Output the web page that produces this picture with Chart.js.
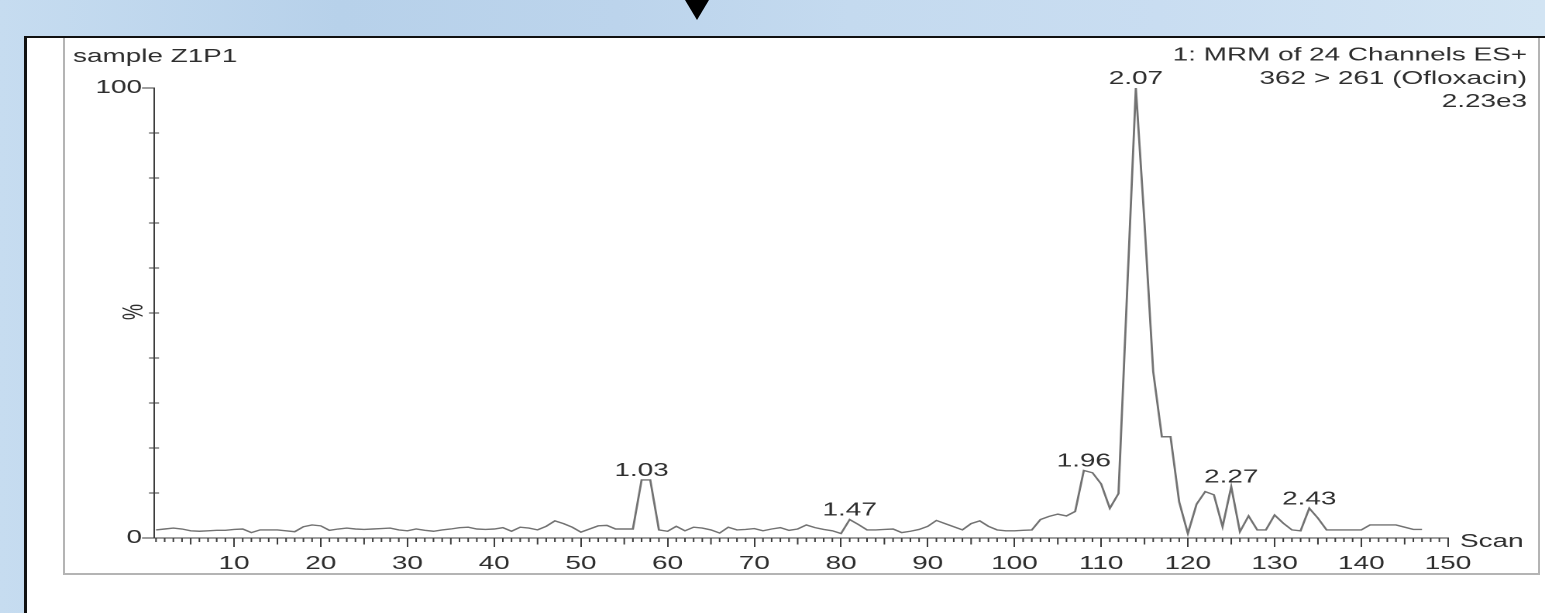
<!DOCTYPE html>
<html>
<head>
<meta charset="utf-8">
<script src="https://cdn.jsdelivr.net/npm/chart.js@4.4.1/dist/chart.umd.min.js"></script>
<style>
  html, body { margin: 0; padding: 0; }
  body {
    width: 1545px; height: 613px; overflow: hidden; position: relative;
    background: linear-gradient(to right, #c6dcf0 0%, #b7d1ea 22%, #bcd4ec 40%, #c4daef 55%, #c9ddf1 75%, #d2e4f3 100%);
    font-family: "Liberation Sans", Arial, sans-serif;
  }
  #panel { position: absolute; left: 24px; top: 36px; right: -10px; bottom: -10px;
    background: #fff; border-left: 3px solid #111; border-top: 2.5px solid #111; }
  #frame { position: absolute; left: 63px; top: 38px; width: 1477px; height: 537px; box-sizing: border-box;
    border-left: 2px solid #b4b4b4; border-right: 2px solid #b4b4b4; border-bottom: 2px solid #b4b4b4; }
  #tri { position: absolute; left: 685px; top: 0; width: 0; height: 0;
    border-left: 12px solid transparent; border-right: 12px solid transparent; border-top: 20px solid #000; }
  #wrap { position: absolute; left: 0; top: 0; width: 997px; height: 613px; transform-origin: 0 0; }
</style>
</head>
<body>
<div id="panel"></div>
<div id="frame"></div>
<div id="tri"></div>
<div id="wrap"><canvas id="c" width="997" height="613"></canvas></div>
<script>
// ---- data ----
const firstScan = 1;
const intensity = [
  1.8, 2.0, 2.2, 2.0, 1.6, 1.5, 1.6, 1.7, 1.7, 1.9,   // 1-10
  2.0, 1.2, 1.8, 1.8, 1.8, 1.6, 1.4, 2.5, 2.9, 2.7,   // 11-20
  1.7, 2.0, 2.2, 2.0, 1.9, 2.0, 2.1, 2.2, 1.8, 1.6,   // 21-30
  2.0, 1.7, 1.5, 1.8, 2.0, 2.3, 2.4, 2.0, 1.9, 2.0,   // 31-40
  2.3, 1.5, 2.4, 2.2, 1.8, 2.6, 3.8, 3.2, 2.4, 1.3,   // 41-50
  2.0, 2.7, 2.8, 2.0, 2.0, 2.0, 12.9, 12.9, 1.8, 1.5, // 51-60
  2.6, 1.6, 2.4, 2.2, 1.8, 1.1, 2.4, 1.8, 1.9, 2.1,   // 61-70
  1.6, 2.0, 2.3, 1.7, 2.0, 2.9, 2.3, 1.9, 1.6, 1.0,   // 71-80
  4.1, 3.0, 1.8, 1.8, 1.9, 2.0, 1.2, 1.5, 1.9, 2.6,   // 81-90
  3.9, 3.2, 2.5, 1.8, 3.2, 3.8, 2.6, 1.8, 1.6, 1.6,   // 91-100
  1.7, 1.8, 4.1, 4.8, 5.3, 4.9, 5.9, 15.0, 14.5, 12.0,// 101-110
  6.6, 9.9, 55, 100, 70, 37, 22.5, 22.5, 8, 1.0,      // 111-120
  7.5, 10.3, 9.6, 2.5, 11.4, 1.4, 4.9, 1.8, 1.8, 5.1, // 121-130
  3.3, 1.8, 1.6, 6.6, 4.4, 1.8, 1.8, 1.8, 1.8, 1.8,   // 131-140
  2.9, 2.9, 2.9, 2.9, 2.4, 1.9, 1.9                   // 141-147
];
const peakScans  = [57, 81, 108, 114, 125, 134];
const peakLabels = ['1.03', '1.47', '1.96', '2.07', '2.27', '2.43'];
const xTickValues = [10, 20, 30, 40, 50, 60, 70, 80, 90, 100, 110, 120, 130, 140, 150];
const yTickLabels = ['0', '100'];
const titleLeft = 'sample Z1P1';
const titleRight = ['1: MRM of 24 Channels ES+', '362 > 261 (Ofloxacin)', '2.23e3'];
const xTitle = 'Scan';
const yTitle = '%';

// ---- layout (page pixels -> canvas pixels, the image is horizontally stretched) ----
const CW = 997;
const S = 1545 / CW;
document.getElementById('wrap').style.transform = 'scaleX(' + S + ')';
const px = v => v / S;
const AREA = { left: 154, right: 1448, top: 88, bottom: 538 };
const YW = 60, XH = 40;
const FAMILY = '"Liberation Sans", Arial, sans-serif';
const FONT = '18px ' + FAMILY;
const TXT = '#2e2e2e';
const AX = '#3c3c3c';

const points = intensity.map((v, i) => ({ x: firstScan + i, y: v }));

const decor = {
  id: 'decor',
  afterDraw(chart) {
    const ctx = chart.ctx, xs = chart.scales.x, ys = chart.scales.y;
    const b = ys.getPixelForValue(0);
    ctx.save();
    ctx.strokeStyle = AX; ctx.lineWidth = 1;
    ctx.beginPath();
    for (let s = 1; s <= 150; s++) {
      if (s % 10 === 0) continue;
      const x = xs.getPixelForValue(s);
      const len = (s % 5 === 0) ? 6.5 : 4;
      ctx.moveTo(x, b); ctx.lineTo(x, b + len);
    }
    const l = xs.left;
    for (let v = 10; v < 100; v += 10) {
      const y = ys.getPixelForValue(v);
      ctx.moveTo(l - px(5), y); ctx.lineTo(l + px(5), y);
    }
    ctx.stroke();

    ctx.fillStyle = TXT; ctx.font = FONT;
    ctx.textAlign = 'center'; ctx.textBaseline = 'alphabetic';
    peakScans.forEach((s, i) => {
      const v = intensity[s - firstScan];
      ctx.fillText(peakLabels[i], xs.getPixelForValue(s), ys.getPixelForValue(v) - 4);
    });

    ctx.textAlign = 'left';
    ctx.fillText(titleLeft, px(73), 62);
    ctx.fillText(xTitle, px(1460), 547);
    ctx.textAlign = 'right';
    titleRight.forEach((t, i) => ctx.fillText(t, px(1527), 60.5 + i * 23.3));

    ctx.save();
    ctx.translate(px(135), 312);
    ctx.rotate(-Math.PI / 2);
    ctx.textAlign = 'center'; ctx.textBaseline = 'middle';
    ctx.fillText(yTitle, 0, 0);
    ctx.restore();
    ctx.restore();
  }
};

new Chart(document.getElementById('c'), {
  type: 'line',
  data: {
    datasets: [{
      data: points,
      borderColor: '#727272',
      borderWidth: 1.4,
      pointRadius: 0,
      tension: 0,
      fill: false
    }]
  },
  options: {
    responsive: false,
    devicePixelRatio: 2,
    animation: false,
    layout: {
      padding: {
        left: px(AREA.left) - YW,
        right: CW - px(AREA.right),
        top: AREA.top,
        bottom: 613 - AREA.bottom - XH
      }
    },
    plugins: { legend: { display: false }, tooltip: { enabled: false } },
    scales: {
      x: {
        type: 'linear',
        min: 0.77, max: 150,
        afterFit: s => { s.height = XH; },
        afterBuildTicks: s => { s.ticks = xTickValues.map(v => ({ value: v })); },
        grid: { drawOnChartArea: false, drawTicks: true, tickLength: 9, tickColor: AX, tickWidth: 1 },
        border: { display: true, color: AX, width: 1 },
        ticks: { autoSkip: false, maxRotation: 0, minRotation: 0, padding: 6,
                 color: TXT, font: { family: FAMILY, size: 18 },
                 callback: v => String(v) }
      },
      y: {
        min: 0, max: 100,
        afterFit: s => { s.width = YW; },
        grid: { drawOnChartArea: false, drawTicks: true, tickLength: px(12),
                tickColor: c => (c.tick && (c.tick.value === 0 || c.tick.value === 100)) ? AX : 'rgba(0,0,0,0)' },
        border: { display: true, color: AX, width: 1 },
        ticks: { stepSize: 10, padding: 0, color: TXT,
                 font: { family: FAMILY, size: 18 },
                 callback: v => (v === 0 ? yTickLabels[0] : (v === 100 ? yTickLabels[1] : '')) }
      }
    }
  },
  plugins: [decor]
});
</script>
</body>
</html>
